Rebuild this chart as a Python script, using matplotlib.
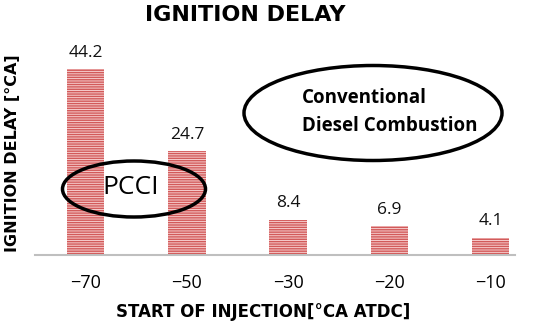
import matplotlib
matplotlib.use("Agg")
import matplotlib.pyplot as plt
from matplotlib.patches import Ellipse

categories = ["\u221270", "\u221250", "\u221230", "\u221220", "\u221210"]
values = [44.2, 24.7, 8.4, 6.9, 4.1]
value_labels = ["44.2", "24.7", "8.4", "6.9", "4.1"]

plt.rcParams['font.family'] = ['Open Sans', 'DejaVu Sans']
plt.rcParams['hatch.linewidth'] = 1.0

fig = plt.figure(figsize=(5.5, 3.25), dpi=100)
ax = fig.add_axes([35/550, 1-255/325, 480/550, 210/325])

x = list(range(len(categories)))
ax.bar(x, values, width=0.37, color='#f6cccc', edgecolor='#d25a5a',
       hatch='-------', linewidth=0)

for xi, v, lab in zip(x, values, value_labels):
    ax.annotate(lab, (xi, v), xytext=(0, 6), textcoords='offset points',
                ha='center', va='bottom', fontsize=12.5, color='#111111')

ax.set_xlim(-0.5, 4.24)
ax.set_ylim(0, 50)
ax.set_xticks(x)
ax.set_xticklabels(categories, fontsize=13)
ax.tick_params(axis='x', length=0, pad=14)
ax.set_yticks([])
for s in ['top', 'right', 'left']:
    ax.spines[s].set_visible(False)
ax.spines['bottom'].set_color('#bfbfbf')
ax.spines['bottom'].set_linewidth(1.5)

wide = ['DejaVu Sans']
ax.set_xlabel("START OF INJECTION[°CA ATDC]", fontsize=12, fontweight='bold',
              family=wide)
ax.xaxis.set_label_coords((263 - 35) / 480, -48/210)
ax.set_ylabel("IGNITION DELAY [°CA]", fontsize=11.5, fontweight='bold',
              family=wide)
ax.yaxis.set_label_coords(-15/480, 0.486)

fig.text(245/550, 1-15/325, "IGNITION DELAY", ha='center', va='center',
         fontsize=16, fontweight='bold', family=wide)

# ellipses in figure pixel coordinates
e1 = Ellipse((134/550, 1-189/325), 143/550, 56/325, transform=fig.transFigure,
             fill=False, edgecolor='black', linewidth=2.5)
e2 = Ellipse((373/550, 1-113/325), 258/550, 95/325, transform=fig.transFigure,
             fill=False, edgecolor='black', linewidth=2.5)
fig.add_artist(e1)
fig.add_artist(e2)
fig.text(131/550, 1-188/325, "PCCI", ha='center', va='center', fontsize=19)
fig.text(302/550, 1-112/325, "Conventional\nDiesel Combustion", ha='left', va='center',
         multialignment='left', fontsize=13.5, fontweight='bold', linespacing=1.5)

fig.savefig("out.png", dpi=100)
